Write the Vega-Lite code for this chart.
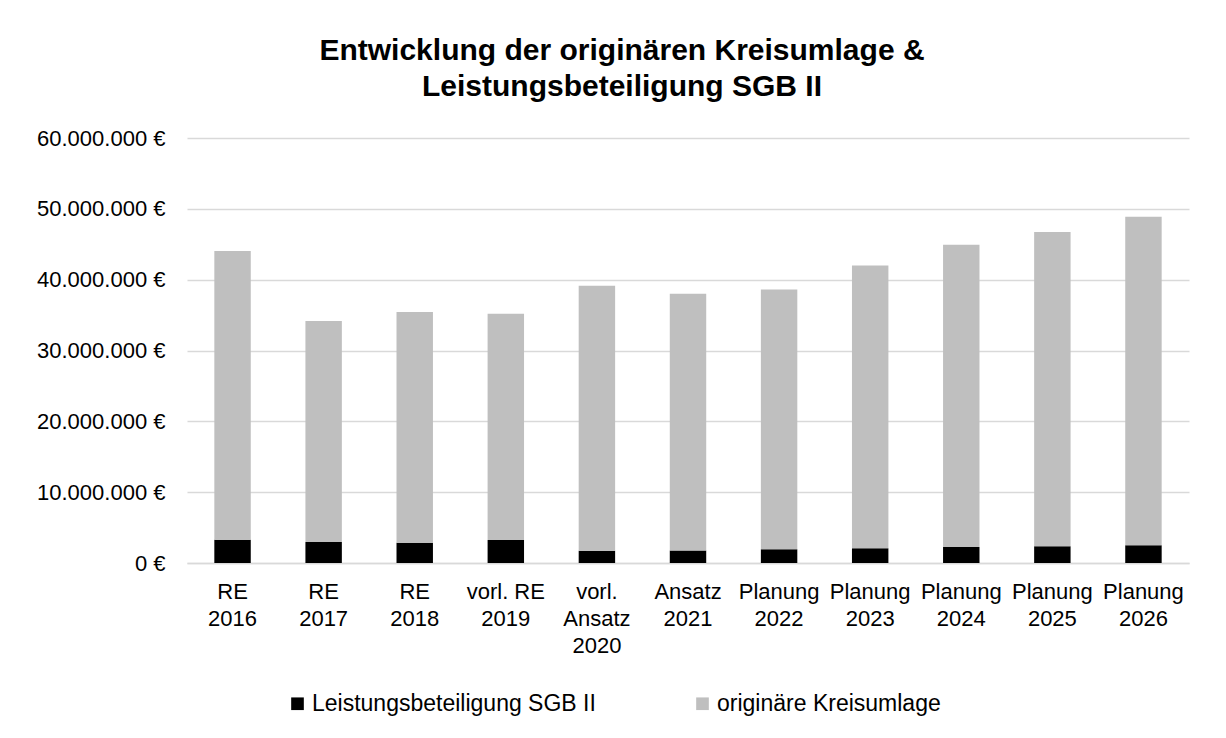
{
  "$schema": "https://vega.github.io/schema/vega-lite/v6.json",
  "width": 1002,
  "height": 425,
  "autosize": {"type": "none"},
  "padding": {"left": 187, "top": 138, "right": 37, "bottom": 175},
  "background": "white",
  "config": {
    "font": "Liberation Sans",
    "view": {"stroke": null},
    "locale": {
      "number": {"decimal": ",", "thousands": ".", "grouping": [3], "currency": ["", " €"]}
    }
  },
  "title": {
    "text": ["Entwicklung der originären Kreisumlage &", "Leistungsbeteiligung SGB II"],
    "fontSize": 30,
    "fontWeight": "bold",
    "color": "#000000",
    "lineHeight": 36.5,
    "anchor": "middle",
    "frame": "group",
    "dx": -66,
    "offset": 25
  },
  "data": {
    "values": [
      {"cat": "RE|2016", "serie": "Leistungsbeteiligung SGB II", "wert": 3290000},
      {"cat": "RE|2016", "serie": "originäre Kreisumlage", "wert": 40760000},
      {"cat": "RE|2017", "serie": "Leistungsbeteiligung SGB II", "wert": 2960000},
      {"cat": "RE|2017", "serie": "originäre Kreisumlage", "wert": 31210000},
      {"cat": "RE|2018", "serie": "Leistungsbeteiligung SGB II", "wert": 2870000},
      {"cat": "RE|2018", "serie": "originäre Kreisumlage", "wert": 32570000},
      {"cat": "vorl. RE|2019", "serie": "Leistungsbeteiligung SGB II", "wert": 3250000},
      {"cat": "vorl. RE|2019", "serie": "originäre Kreisumlage", "wert": 31950000},
      {"cat": "vorl.|Ansatz|2020", "serie": "Leistungsbeteiligung SGB II", "wert": 1740000},
      {"cat": "vorl.|Ansatz|2020", "serie": "originäre Kreisumlage", "wert": 37410000},
      {"cat": "Ansatz|2021", "serie": "Leistungsbeteiligung SGB II", "wert": 1780000},
      {"cat": "Ansatz|2021", "serie": "originäre Kreisumlage", "wert": 36240000},
      {"cat": "Planung|2022", "serie": "Leistungsbeteiligung SGB II", "wert": 1930000},
      {"cat": "Planung|2022", "serie": "originäre Kreisumlage", "wert": 36670000},
      {"cat": "Planung|2023", "serie": "Leistungsbeteiligung SGB II", "wert": 2070000},
      {"cat": "Planung|2023", "serie": "originäre Kreisumlage", "wert": 39930000},
      {"cat": "Planung|2024", "serie": "Leistungsbeteiligung SGB II", "wert": 2260000},
      {"cat": "Planung|2024", "serie": "originäre Kreisumlage", "wert": 42680000},
      {"cat": "Planung|2025", "serie": "Leistungsbeteiligung SGB II", "wert": 2350000},
      {"cat": "Planung|2025", "serie": "originäre Kreisumlage", "wert": 44380000},
      {"cat": "Planung|2026", "serie": "Leistungsbeteiligung SGB II", "wert": 2490000},
      {"cat": "Planung|2026", "serie": "originäre Kreisumlage", "wert": 46410000}
    ]
  },
  "mark": {"type": "bar"},
  "encoding": {
    "x": {
      "field": "cat",
      "type": "nominal",
      "sort": null,
      "scale": {"paddingInner": 0.6, "paddingOuter": 0.3},
      "axis": {
        "title": null,
        "labelAngle": 0,
        "labelExpr": "split(datum.label, '|')",
        "labelFontSize": 22,
        "labelLineHeight": 27,
        "labelColor": "#000000",
        "labelPadding": 18,
        "labelBaseline": "top",
        "labelLimit": 0,
        "ticks": false,
        "domainColor": "#d9d9d9",
        "domainWidth": 1.5,
        "grid": false
      }
    },
    "y": {
      "field": "wert",
      "type": "quantitative",
      "stack": "zero",
      "scale": {"domain": [0, 60000000], "nice": false},
      "axis": {
        "title": null,
        "values": [0, 10000000, 20000000, 30000000, 40000000, 50000000, 60000000],
        "format": "$,.0f",
        "labelFontSize": 22,
        "labelColor": "#000000",
        "labelPadding": 22,
        "ticks": false,
        "domain": false,
        "gridColor": "#d9d9d9",
        "gridWidth": 1.5
      }
    },
    "order": {"field": "serie", "type": "nominal", "sort": "ascending"},
    "color": {
      "field": "serie",
      "type": "nominal",
      "scale": {
        "domain": ["Leistungsbeteiligung SGB II", "originäre Kreisumlage"],
        "range": ["#000000", "#bfbfbf"]
      },
      "legend": {
        "title": null,
        "orient": "none",
        "legendX": 99,
        "legendY": 554,
        "direction": "horizontal",
        "symbolType": "square",
        "symbolSize": 160,
        "symbolStrokeWidth": 0,
        "labelFontSize": 23,
        "labelLimit": 0,
        "labelColor": "#000000",
        "labelOffset": 3,
        "columnPadding": 95
      }
    }
  }
}
